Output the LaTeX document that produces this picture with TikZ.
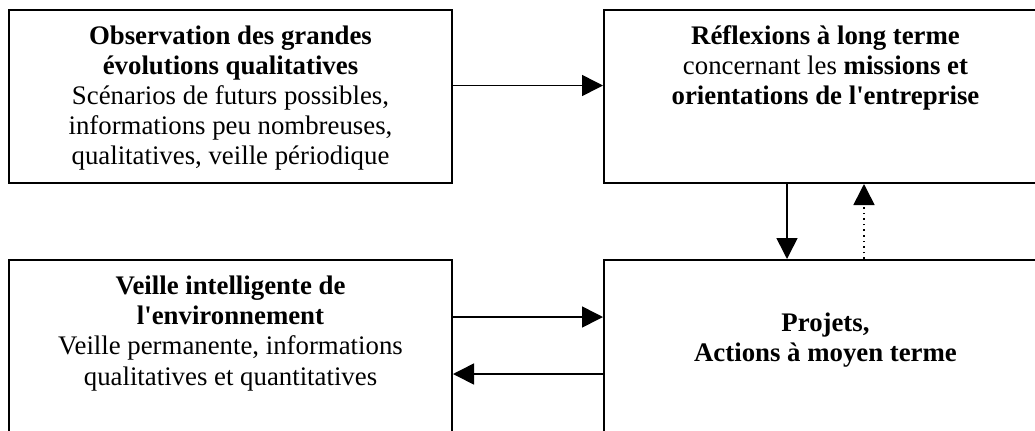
\documentclass[tikz,border=0pt]{standalone}
\usepackage{fontspec}
\setmainfont{Liberation Serif}
\usetikzlibrary{positioning,arrows.meta}

\tikzset{
	box/.style={draw, line width=1pt, minimum width=221.5pt, inner sep=0pt},
	txt/.style={align=center, inner sep=0pt, font=\fontsize{13.4pt}{15.1pt}\selectfont},
	arr/.style={line width=0.8pt, -{Triangle[length=10.5pt,width=10.5pt]}}
}

\begin{document}
\begin{tikzpicture}[x=0.5pt,y=-0.5pt]
	\useasboundingbox (0,0) rectangle (1035,430);
	\clip (0,0) rectangle (1035,430);

	\node[box, minimum height=86.5pt] (obs) at (230.5,96.5) {};
	\node[box, minimum height=86.5pt] (refl) at (825.5,96.5) {};
	\node[box, minimum height=100pt] (env) at (230.5,360) {};
	\node[box, minimum height=100pt] (proj) at (825.5,360) {};

	\node[txt, below=8pt of obs.north] (obsT) {\textbf{Observation des grandes}\\ \textbf{évolutions qualitatives}\\ Scénarios de futurs possibles,\\ informations peu nombreuses,\\ qualitatives, veille périodique};
	\node[txt, below=8pt of refl.north] (reflT) {\textbf{Réflexions à long terme}\\ concernant les \textbf{missions et}\\ \textbf{orientations de l\textquotesingle entreprise}};
	\node[txt, below=8.25pt of env.north] (envT) {\textbf{Veille intelligente de}\\ \textbf{l\textquotesingle environnement}\\ Veille permanente, informations\\ qualitatives et quantitatives};
	\node[txt, below=26.5pt of proj.north] (projT) {\textbf{Projets,}\\ \textbf{Actions à moyen terme}};

	\draw[arr] ([yshift=-38.25pt]obs.north east) -- ([yshift=-38.25pt]refl.north west);
	\draw[arr] ([xshift=-19.25pt]refl.south) -- ([xshift=-19.25pt]proj.north);
	\draw[arr, dotted] ([xshift=19.25pt]proj.north) -- ([xshift=19.25pt]refl.south);
	\draw[arr] ([yshift=-29pt]env.north east) -- ([yshift=-29pt]proj.north west);
	\draw[arr] ([yshift=-57.5pt]proj.north west) -- ([yshift=-57.5pt]env.north east);
\end{tikzpicture}
\end{document}
